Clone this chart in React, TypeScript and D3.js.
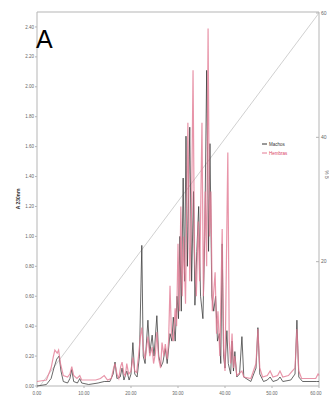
import React from 'react';
import * as d3 from 'd3';

// retention time (min) vs absorbance at 230 nm
const machosTime = [0, 2.0, 3.0, 3.6, 4.2, 4.7, 5.1, 5.6, 6.5, 7.0, 7.4, 7.8, 8.6, 9.1, 9.5, 11, 13, 14.3, 15.5, 16.2, 16.6, 17.0, 17.7, 18.1, 18.5, 19.1, 19.6, 20.0, 20.4, 20.8, 21.3, 21.8, 22.3, 22.6, 23.0, 23.6, 24.0, 24.5, 24.9, 25.5, 25.9, 26.4, 26.8, 27.3, 27.7, 28.3, 28.7, 29.0, 29.4, 29.8, 30.1, 30.4, 30.7, 31.1, 31.4, 31.7, 32.0, 32.5, 32.9, 33.3, 33.6, 34.0, 34.4, 34.8, 35.3, 35.7, 36.1, 36.5, 36.8, 37.2, 37.6, 38.0, 38.4, 38.8, 39.1, 39.4, 39.7, 40.0, 40.4, 40.7, 41.2, 41.5, 41.8, 42.1, 42.5, 43.1, 43.6, 44.0, 45.5, 46.6, 47.0, 47.4, 48.2, 49.0, 49.6, 50.2, 51.2, 51.7, 52.3, 54.0, 54.9, 55.3, 55.7, 56.5, 59.5, 60];
const machosAbs = [0.0, 0.01, 0.05, 0.12, 0.18, 0.2, 0.1, 0.03, 0.02, 0.05, 0.11, 0.03, 0.02, 0.05, 0.02, 0.01, 0.02, 0.03, 0.03, 0.08, 0.16, 0.05, 0.06, 0.12, 0.04, 0.1, 0.04, 0.08, 0.29, 0.08, 0.06, 0.2, 0.94, 0.2, 0.15, 0.44, 0.22, 0.34, 0.2, 0.47, 0.2, 0.13, 0.16, 0.25, 0.15, 0.35, 0.3, 0.46, 0.3, 0.6, 0.45, 1.0, 0.5, 1.39, 0.7, 1.67, 0.8, 1.73, 0.7, 1.3, 0.54, 0.9, 1.2, 0.6, 0.45, 1.0, 2.11, 0.9, 1.62, 0.6, 0.5, 0.6, 0.3, 0.35, 0.15, 0.95, 0.2, 0.12, 0.37, 0.15, 0.08, 0.3, 0.1, 0.23, 0.06, 0.08, 0.33, 0.06, 0.03, 0.12, 0.39, 0.08, 0.03, 0.04, 0.06, 0.03, 0.04, 0.06, 0.03, 0.04, 0.08, 0.44, 0.06, 0.03, 0.03, 0.03];

const hembrasTime = [0, 2.0, 3.0, 3.5, 3.8, 4.3, 4.6, 5.0, 5.6, 6.5, 7.0, 7.4, 7.8, 8.5, 9.1, 9.5, 11, 12.5, 13.5, 14.3, 15.0, 15.8, 16.3, 16.6, 17.0, 17.4, 17.8, 18.1, 18.5, 18.8, 19.1, 19.5, 20.0, 20.4, 20.8, 21.2, 21.6, 22.0, 22.3, 22.6, 23.0, 23.6, 24.0, 24.5, 24.8, 25.2, 25.5, 25.9, 26.3, 26.6, 27.0, 27.3, 27.7, 28.0, 28.3, 28.6, 29.0, 29.4, 29.7, 30.0, 30.3, 30.6, 30.9, 31.2, 31.6, 32.1, 32.5, 32.9, 33.2, 33.5, 33.9, 34.3, 34.6, 35.1, 35.4, 35.8, 36.1, 36.4, 36.7, 37.0, 37.3, 37.9, 38.2, 38.5, 38.9, 39.4, 39.7, 40.0, 40.6, 40.9, 41.2, 41.5, 41.8, 42.1, 42.5, 43.6, 44.0, 45.5, 46.6, 47.0, 47.4, 48.0, 49.0, 49.6, 50.2, 51.2, 51.7, 52.3, 53.5, 54.3, 54.9, 55.3, 55.7, 56.3, 58, 59.3, 59.8, 60];
const hembrasAbs = [0.03, 0.04, 0.12, 0.2, 0.24, 0.22, 0.24, 0.15, 0.07, 0.06, 0.08, 0.13, 0.07, 0.05, 0.07, 0.04, 0.04, 0.04, 0.05, 0.07, 0.04, 0.05, 0.12, 0.15, 0.08, 0.05, 0.13, 0.16, 0.08, 0.07, 0.15, 0.08, 0.1, 0.19, 0.1, 0.09, 0.2, 0.33, 0.39, 0.25, 0.18, 0.33, 0.2, 0.26, 0.15, 0.22, 0.36, 0.18, 0.12, 0.29, 0.2, 0.28, 0.18, 0.3, 0.67, 0.35, 0.3, 0.52, 0.4, 0.95, 0.5, 1.2, 0.6, 1.0, 0.55, 1.76, 0.7, 1.2, 2.11, 0.9, 0.6, 1.1, 0.7, 1.76, 0.6, 1.3, 0.8, 2.39, 1.0, 1.3, 0.5, 0.76, 0.35, 0.5, 0.2, 1.05, 0.25, 0.1, 1.56, 0.3, 0.15, 0.35, 0.12, 0.2, 0.07, 0.1, 0.06, 0.05, 0.15, 0.38, 0.12, 0.06, 0.07, 0.1, 0.06, 0.07, 0.1, 0.06, 0.07, 0.1, 0.12, 0.38, 0.1, 0.05, 0.05, 0.05, 0.08, 0.07];

// gradient (% B)
const gradientTime = [0.6, 60];
const gradientB = [0, 60];

const absTicks = [0, 0.2, 0.4, 0.6, 0.8, 1.0, 1.2, 1.4, 1.6, 1.8, 2.0, 2.2, 2.4];
const timeTicks = [0, 10, 20, 30, 40, 50, 60];
const bTicks = [20, 40, 60];

export default function App() {
  const width = 329;
  const height = 396;
  const left = 37, right = 319, top = 12, bottom = 386;

  const x = d3.scaleLinear().domain([0, 60]).range([left, right]);
  const y = d3.scaleLinear().domain([0, 2.5]).range([bottom, top]);
  const yB = d3.scaleLinear().domain([0, 60]).range([bottom, 13]);

  const line = d3.line<[number, number]>().x(d => x(d[0])).y(d => y(d[1]));
  const machos = machosTime.map((t, i) => [t, machosAbs[i]] as [number, number]);
  const hembras = hembrasTime.map((t, i) => [t, hembrasAbs[i]] as [number, number]);
  const grad = d3.line<[number, number]>().x(d => x(d[0])).y(d => yB(d[1]))(
    gradientTime.map((t, i) => [t, gradientB[i]] as [number, number])
  );

  const axisCol = '#b5b5b5';
  const labCol = '#666';
  const pink = '#e27a93';

  return (
    <svg width={width} height={height} style={{ position: 'absolute', left: 0, top: 0, background: '#fff' }}
      fontFamily="'Liberation Sans', Arial, sans-serif">
      {/* frame */}
      <line x1={left} x2={right} y1={top} y2={top} stroke={axisCol} strokeWidth={1} />
      <line x1={left} x2={left} y1={top} y2={bottom} stroke={axisCol} strokeWidth={1} />
      <line x1={right} x2={right} y1={top} y2={bottom} stroke={axisCol} strokeWidth={1} />
      <line x1={left} x2={right} y1={bottom} y2={bottom} stroke={axisCol} strokeWidth={1} />

      {/* left axis */}
      {absTicks.map(v => (
        <g key={'a' + v}>
          <line x1={left - 2} x2={left} y1={y(v)} y2={y(v)} stroke={axisCol} />
          <text x={left - 3} y={y(v) + 1.6} fontSize={4.5} textAnchor="end" fill={labCol}>{v.toFixed(2)}</text>
        </g>
      ))}
      <text transform={`translate(20,${y(1.25)}) rotate(-90)`} fontSize={5} fontWeight="bold" textAnchor="middle" fill="#333">A 230nm</text>

      {/* right axis */}
      {bTicks.map(v => (
        <g key={'b' + v}>
          <line x1={right - 3} x2={right} y1={yB(v)} y2={yB(v)} stroke={axisCol} />
          <text x={right + 2} y={yB(v) + 1.8} fontSize={5} fill={labCol}>{v}</text>
        </g>
      ))}
      <text transform={`translate(324.5,${yB(34)}) rotate(90)`} fontSize={4.5} textAnchor="middle" fill={labCol}>% B</text>

      {/* bottom axis */}
      {timeTicks.map(v => (
        <g key={'t' + v}>
          <line x1={x(v)} x2={x(v)} y1={bottom} y2={bottom + 2} stroke={axisCol} />
          <text x={Math.min(x(v), 316)} y={394.5} fontSize={4.5} textAnchor="middle" fill={labCol}>{v.toFixed(2)}</text>
        </g>
      ))}

      {/* gradient */}
      <path d={grad || ''} fill="none" stroke="#c4c4c4" strokeWidth={0.8} />

      {/* traces */}
      <path d={line(machos) || ''} fill="none" stroke="#3a3a3a" strokeWidth={0.9} strokeOpacity={0.85} />
      <path d={line(hembras) || ''} fill="none" stroke={pink} strokeWidth={1.2} strokeOpacity={0.8} />

      {/* legend */}
      <line x1={262} x2={267} y1={144} y2={144} stroke="#333" strokeWidth={1} />
      <text x={269} y={145.6} fontSize={4.5} fill="#333">Machos</text>
      <line x1={262} x2={267} y1={153} y2={153} stroke={pink} strokeWidth={1} />
      <text x={269} y={154.6} fontSize={4.5} fill="#d9405f">Hembras</text>

      <text x={36} y={48} fontSize={25} fill="#000">A</text>
    </svg>
  );
}
